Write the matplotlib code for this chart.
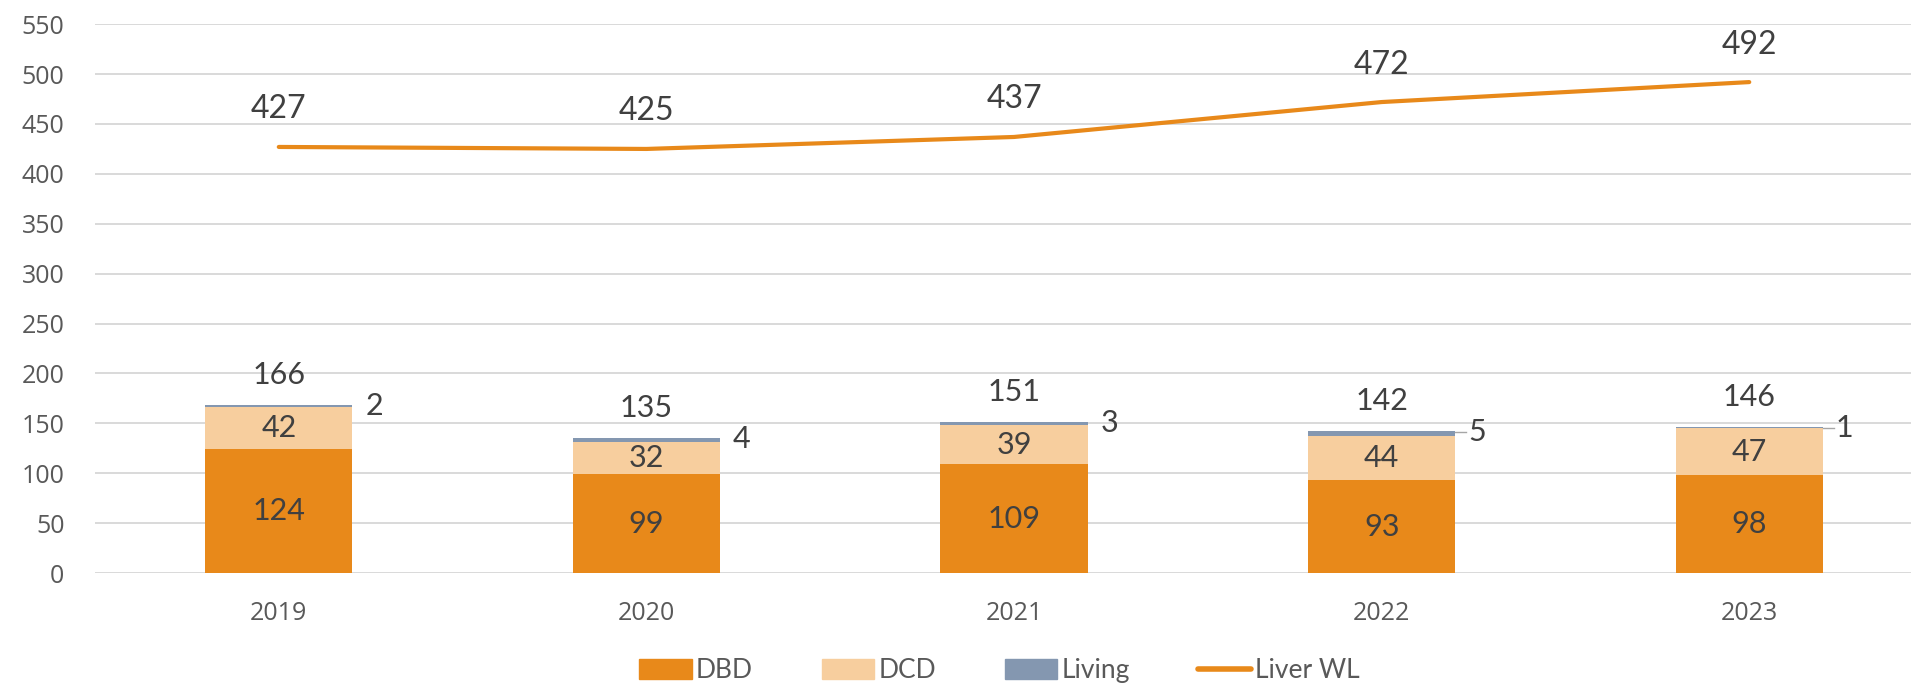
import numpy as np
import matplotlib.pyplot as plt
from matplotlib.patches import Patch
from matplotlib.lines import Line2D

# data
years = ['2019', '2020', '2021', '2022', '2023']
dbd = [124, 99, 109, 93, 98]
dcd = [42, 32, 39, 44, 47]
living = [2, 4, 3, 5, 1]
totals = [166, 135, 151, 142, 146]
liver_wl = [427, 425, 437, 472, 492]

c_dbd = '#E8891A'
c_dcd = '#F7CE9E'
c_living = '#8497B0'
c_line = '#E8891A'
txt = '#404040'

plt.rcParams['font.family'] = ['Lato', 'DejaVu Sans']

fig = plt.figure(figsize=(19.11, 6.86), dpi=100)
ax = fig.add_axes([0.0497, 0.1647, 0.9503, 0.800])

x = np.arange(len(years))
w = 0.40
dbd_a = np.array(dbd)
dcd_a = np.array(dcd)
liv_a = np.array(living)

ax.bar(x, dbd_a, w, color=c_dbd, zorder=2)
ax.bar(x, dcd_a, w, bottom=dbd_a, color=c_dcd, zorder=2)
ax.bar(x, liv_a, w, bottom=dbd_a + dcd_a, color=c_living, zorder=2)
ax.plot(x, liver_wl, color=c_line, lw=3, zorder=3, solid_capstyle='round')

# segment labels
for i in range(len(years)):
    ax.text(x[i], dbd[i] / 2, str(dbd[i]), ha='center', va='center', fontsize=22, color=txt, zorder=4)
    ax.text(x[i], dbd[i] + dcd[i] / 2, str(dcd[i]), ha='center', va='center', fontsize=22, color=txt, zorder=4)
    top = dbd[i] + dcd[i] + living[i]
    # living label to the right of the bar
    ax.text(x[i] + 0.235, top - 1, str(living[i]), ha='left', va='center', fontsize=22, color=txt, zorder=4)
    if i >= 3:
        ax.plot([x[i] + w / 2, x[i] + 0.23], [top - 1, top - 1], color='#A6A6A6', lw=1, zorder=4)
    ax.annotate(str(totals[i]), (x[i], top), xytext=(0, 22), textcoords='offset points',
                ha='center', va='center', fontsize=22, color=txt)
    ax.annotate(str(liver_wl[i]), (x[i], liver_wl[i]), xytext=(0, 27), textcoords='offset points',
                ha='center', va='center', fontsize=23, color=txt)

ax.set_xlim(-0.5, 4.44)
ax.set_ylim(0, 550)
ax.set_yticks(np.arange(0, 551, 50))
ax.set_xticks(x)
ax.set_xticklabels(years)
ax.grid(axis='y', color='#D9D9D9', lw=1.4, zorder=0)
for s in ax.spines.values():
    s.set_visible(False)
ax.tick_params(axis='y', length=0, pad=22, labelsize=18, labelcolor='#595959')
ax.tick_params(axis='x', length=0, pad=20, labelsize=18, labelcolor='#595959')
for lab in ax.get_yticklabels():
    lab.set_family(['Open Sans', 'DejaVu Sans'])
for lab in ax.get_xticklabels():
    lab.set_family(['Open Sans', 'DejaVu Sans'])

handles = [Patch(color=c_dbd), Patch(color=c_dcd), Patch(color=c_living),
           Line2D([0], [0], color=c_line, lw=4, solid_capstyle='round')]
fig.legend(handles, ['DBD', 'DCD', 'Living', 'Liver WL'], ncol=4, loc='center',
           bbox_to_anchor=(0.523, 0.022), frameon=False, fontsize=19, labelcolor='#595959',
           handlelength=2.0, handleheight=0.8, handletextpad=0.15, columnspacing=2.6)

fig.savefig('out.png', dpi=100)
